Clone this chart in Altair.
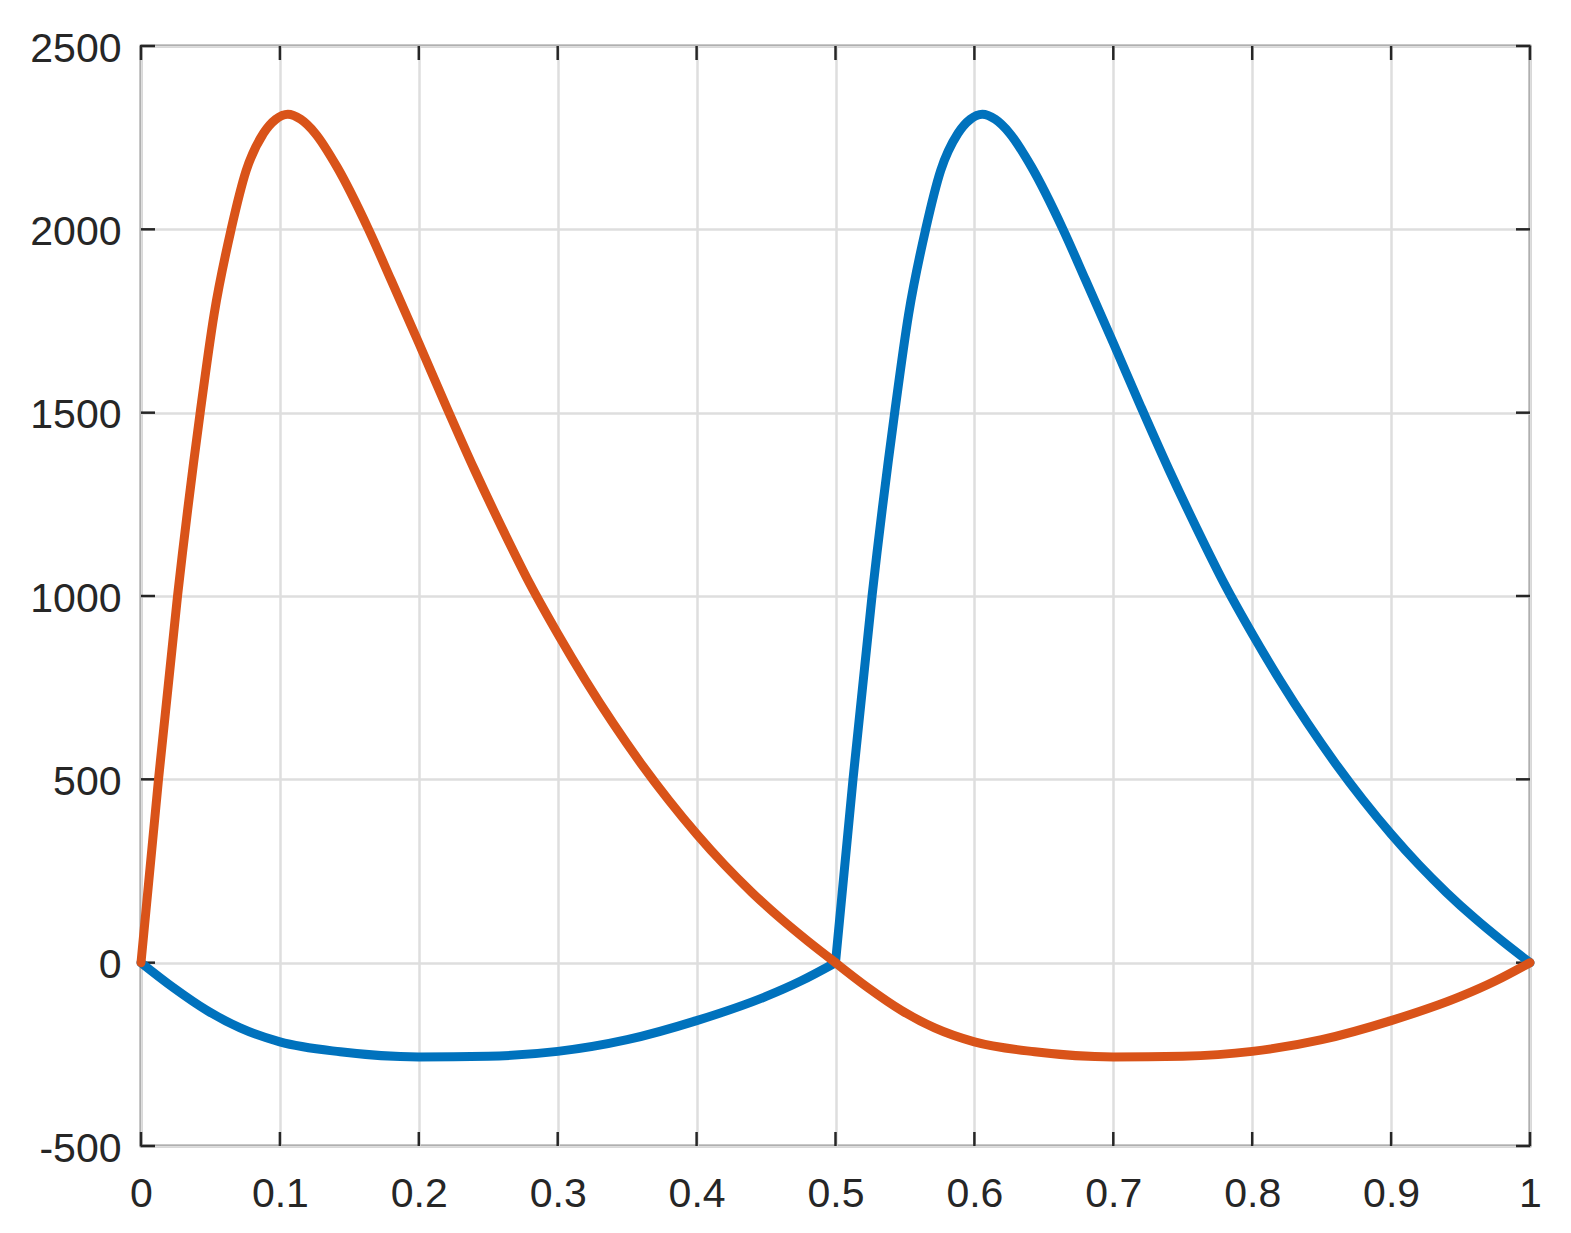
import altair as alt
import pandas as pd

# ---- data ----
# orange: rising lobe on [0, 0.5], dip on [0.5, 1]
orange_rise_x = [0.0, 0.0126, 0.0263, 0.0426, 0.0527, 0.0649, 0.0757, 0.0882, 0.097, 0.1057,
                 0.115, 0.1254, 0.141, 0.1638, 0.18, 0.20, 0.22, 0.24, 0.26, 0.28,
                 0.30, 0.32, 0.34, 0.36, 0.38, 0.40, 0.42, 0.44, 0.46, 0.48, 0.5]
orange_rise_y = [0, 500, 1000, 1500, 1770, 2000, 2160, 2262, 2300, 2314,
                 2300, 2262, 2171, 2000, 1862, 1690, 1515, 1345, 1185, 1033,
                 897, 770, 652, 543, 443, 351, 267, 191, 122, 59, 0]
orange_dip_x = [0.5, 0.5233, 0.5474, 0.5714, 0.6, 0.6434, 0.7, 0.75, 0.8, 0.85, 0.9,
                0.95, 0.975, 1.0]
orange_dip_y = [0, -68, -130, -178, -216, -243, -257, -255, -242, -210, -158,
                -92, -50, 0]

# blue: dip on [0, 0.5], rising lobe on [0.5, 1]
blue_dip_x = [0.0, 0.0233, 0.0474, 0.0714, 0.1, 0.1434, 0.2, 0.25, 0.3, 0.35, 0.4,
              0.45, 0.475, 0.5]
blue_dip_y = [0, -68, -130, -178, -216, -243, -257, -255, -242, -210, -158,
              -92, -50, 0]
blue_rise_x = [0.5, 0.5126, 0.5263, 0.5426, 0.5527, 0.5649, 0.5757, 0.5882, 0.597, 0.6057,
               0.615, 0.6254, 0.641, 0.6638, 0.68, 0.70, 0.72, 0.74, 0.76, 0.78,
               0.80, 0.82, 0.84, 0.86, 0.88, 0.90, 0.92, 0.94, 0.96, 0.98, 1.0]
blue_rise_y = [0, 500, 1000, 1500, 1770, 2000, 2160, 2262, 2300, 2314,
               2300, 2262, 2171, 2000, 1862, 1690, 1515, 1345, 1185, 1033,
               897, 770, 652, 543, 443, 351, 267, 191, 122, 59, 0]

x_ticks = [0, 0.1, 0.2, 0.3, 0.4, 0.5, 0.6, 0.7, 0.8, 0.9, 1]
y_ticks = [-500, 0, 500, 1000, 1500, 2000, 2500]

# ---- style ----
W, H = 1389, 1100
BLUE = "#0072BD"
ORANGE = "#D95319"
INK = "#262626"
GRID = "#dedede"
FONT = "Liberation Sans"
TICK = 14
LW = 9


def frame(xs_, ys_, seg):
    return pd.DataFrame({"x": xs_, "y": ys_, "seg": seg})


df_orange = pd.concat([frame(orange_rise_x, orange_rise_y, "a"),
                       frame(orange_dip_x, orange_dip_y, "b")], ignore_index=True)
df_blue = pd.concat([frame(blue_dip_x, blue_dip_y, "a"),
                     frame(blue_rise_x, blue_rise_y, "b")], ignore_index=True)
df_xt = pd.DataFrame({"v": x_ticks})
df_yt = pd.DataFrame({"v": y_ticks})

xs = alt.Scale(domain=[0, 1], nice=False, zero=False)
ys = alt.Scale(domain=[-500, 2500], nice=False, zero=False)

x_axis = alt.Axis(values=x_ticks, grid=True, gridColor=GRID, gridWidth=2.5,
                  ticks=False, tickSize=0, domain=False, title=None,
                  labelExpr="toString(datum.value)", labelFont=FONT, labelFontSize=41,
                  labelColor=INK, labelPadding=28, labelFlush=False)
y_axis = alt.Axis(values=y_ticks, grid=True, gridColor=GRID, gridWidth=2.5,
                  ticks=False, tickSize=0, domain=False, title=None,
                  labelExpr="toString(datum.value)", labelFont=FONT, labelFontSize=41,
                  labelColor=INK, labelPadding=20, labelFlush=False, labelOffset=3)

X = alt.X("x:Q", scale=xs, axis=x_axis)
Y = alt.Y("y:Q", scale=ys, axis=y_axis)

blue = alt.Chart(df_blue).mark_line(color=BLUE, strokeWidth=LW, interpolate="monotone",
                                    strokeJoin="round", strokeCap="round").encode(
    x=X, y=Y, detail="seg:N", order="x:Q")
orange = alt.Chart(df_orange).mark_line(color=ORANGE, strokeWidth=LW, interpolate="monotone",
                                        strokeJoin="round", strokeCap="round").encode(
    x=X, y=Y, detail="seg:N", order="x:Q")

XV = alt.X("v:Q", scale=xs, axis=x_axis)
YV = alt.Y("v:Q", scale=ys, axis=y_axis)

tick_bottom = alt.Chart(df_xt).mark_rule(color=INK, strokeWidth=2.5).encode(
    x=XV, y=alt.value(H), y2=alt.value(H - TICK))
tick_top = alt.Chart(df_xt).mark_rule(color=INK, strokeWidth=2.5).encode(
    x=XV, y=alt.value(0), y2=alt.value(TICK))
tick_left = alt.Chart(df_yt).mark_rule(color=INK, strokeWidth=2.5).encode(
    y=YV, x=alt.value(0), x2=alt.value(TICK))
tick_right = alt.Chart(df_yt).mark_rule(color=INK, strokeWidth=2.5).encode(
    y=YV, x=alt.value(W), x2=alt.value(W - TICK))

chart = alt.layer(tick_bottom, tick_top, tick_left, tick_right, blue, orange).properties(
    width=W, height=H,
    autosize=alt.AutoSizeParams(type="none"),
    padding={"left": 133, "top": 38, "right": 30, "bottom": 80},
    background="white",
).configure_view(stroke=INK, strokeWidth=2.5)

chart.save("out.html", embed_options={"renderer": "svg", "actions": False})
